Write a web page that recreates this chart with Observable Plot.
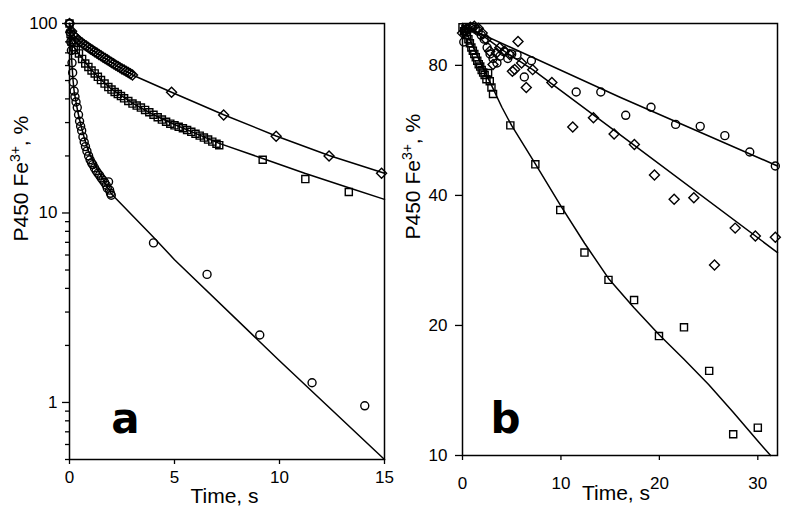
<!DOCTYPE html>
<html><head><meta charset="utf-8">
<script src="https://cdn.jsdelivr.net/npm/d3@7"></script>
<script src="https://cdn.jsdelivr.net/npm/@observablehq/plot@0.6"></script>
<style>
body{margin:0;background:#fff;}
#wrap{position:relative;width:800px;height:521px;background:#fff;}
#wrap svg{position:absolute;top:0;}
</style></head><body><div id="wrap"></div>
<script>
// ---------- Panel a data (time s, % P450 Fe3+) ----------
const aXTicks = [0, 5, 10, 15];
const aYTicks = [1, 10, 100];
const aYMinorTicks = [0.5,0.6,0.7,0.8,0.9,2,3,4,5,6,7,8,9,20,30,40,50,60,70,80,90];
const aDiamonds = [[0,100],[0.1,91],[0.2,86.5],[0.3,84],[0.4,82],[0.5,80.3],[0.6,78.8],[0.7,77.3],[0.8,76],[0.9,74.7],[1.0,73.4],[1.1,72.2],[1.2,71],[1.3,69.8],[1.4,68.6],[1.5,67.5],[1.6,66.4],[1.7,65.3],[1.8,64.3],[1.9,63.3],[2.0,62.3],[2.1,61.3],[2.2,60.3],[2.3,59.4],[2.4,58.5],[2.5,57.6],[2.6,56.8],[2.7,55.9],[2.8,55.1],[2.9,54.3],[3.0,53.5],[4.86,43.4],[7.34,32.9],[9.84,25.4],[12.36,20.0],[14.86,16.2]];
const aSquares = [[0,100],[0.05,88],[0.1,80],[0.2,75],[0.3,72.5],[0.45,69.5],[0.6,65],[0.75,61.5],[0.9,59],[1.05,56.5],[1.2,54.5],[1.35,52.3],[1.5,50.3],[1.67,48.2],[1.85,46.2],[2.0,44.8],[2.15,43.5],[2.3,42.4],[2.45,41.4],[2.6,40.3],[2.8,39.0],[3.0,37.8],[3.2,36.9],[3.4,36.0],[3.6,35.0],[3.8,34.0],[4.0,33.0],[4.2,32.0],[4.4,31.1],[4.6,30.3],[4.8,29.6],[5.0,29.0],[5.2,28.5],[5.4,28.0],[5.6,27.4],[5.8,26.8],[6.0,26.2],[6.2,25.6],[6.4,25.0],[6.6,24.4],[6.8,23.8],[7.0,23.2],[7.13,22.8],[9.2,19.1],[11.23,15.1],[13.3,12.9]];
const aCircles = [[0,100],[0.03,90],[0.06,80],[0.09,72],[0.12,62],[0.15,55],[0.18,49],[0.22,44],[0.26,41],[0.31,38.5],[0.37,36],[0.43,33],[0.48,30.5],[0.53,28.7],[0.58,27.2],[0.64,25.2],[0.7,23.7],[0.76,22.4],[0.83,21.2],[0.91,20],[0.98,19.1],[1.05,18.4],[1.11,18],[1.19,17.3],[1.27,16.7],[1.35,16.2],[1.43,15.8],[1.51,15.3],[1.59,14.9],[1.67,14.5],[1.75,14],[1.8,13.5],[1.86,14.6],[1.91,13.2],[1.95,12.7],[1.99,12.4],[4.0,6.95],[6.55,4.74],[9.06,2.27],[11.55,1.27],[14.06,0.96]];
const aDiamondFit = [[0,100],[0.1,91],[0.25,85.5],[0.5,80.3],[1,73.4],[1.5,67.5],[2,62.3],[2.5,57.6],[3,53.5],[4.86,43.4],[7.34,33],[9.84,25.5],[12.36,20.1],[15,16.2]];
const aSquareFit = [[0,100],[0.1,81],[0.3,72.5],[0.6,65.5],[1,57.5],[1.5,50.5],[2,45],[3,38],[4,33],[5,29.3],[6,26.3],[7.13,23.3],[9.2,19.4],[11.2,16.2],[13.3,13.6],[15,11.8]];
const aCircleFit = [[0,100],[0.04,86],[0.08,72],[0.12,60],[0.17,50],[0.22,44],[0.3,39],[0.4,34],[0.5,30.5],[0.6,27.5],[0.7,25],[0.8,23],[0.9,21.3],[1.0,20],[1.2,18],[1.4,16.5],[1.6,15],[1.8,13.7],[2.0,12.6],[4.0,7.45],[5.0,5.67],[10,1.66],[15,0.5]];

// ---------- Panel b data ----------
const bXTicks = [0, 10, 20, 30];
const bYTicks = [10, 20, 40, 80];
const bCircles = [[0.13,90.6],[0.3,95],[0.6,97],[1.0,98],[1.3,97],[1.6,96],[1.9,94],[2.2,92],[2.5,88],[2.8,85],[3.1,83],[3.5,81],[3.8,84],[4.2,86],[4.6,83],[5.0,85],[5.54,84.6],[6.28,75.2],[7.0,82],[11.55,69.4],[14.05,69.4],[16.58,61.3],[19.15,64.0],[21.65,58.4],[24.15,57.8],[26.65,55.0],[29.18,50.4],[31.78,46.8]];
const bDiamonds = [[0,95],[0.4,97],[0.8,98],[1.2,98.5],[1.6,97.5],[2.0,95],[2.4,92],[2.77,86.3],[3.1,80.4],[3.44,85.5],[3.78,87.9],[4.29,86.3],[4.8,84.8],[5.07,77.5],[5.3,78.3],[5.64,90.9],[6.0,81],[6.48,71.1],[7.13,78.2],[9.08,73.0],[11.2,57.6],[13.3,60.5],[15.4,55.5],[17.46,52.5],[19.5,44.6],[21.5,39.2],[23.5,39.5],[25.6,27.6],[27.7,33.6],[29.75,32.2],[31.78,32.0]];
const bSquares = [[0,98],[0.15,96],[0.3,97],[0.45,94],[0.6,92],[0.75,90],[0.9,88],[1.05,86.5],[1.2,85],[1.35,83.5],[1.5,82],[1.65,80.5],[1.8,79.5],[1.95,78],[2.1,77],[2.25,76],[2.43,74.3],[2.6,76.8],[2.77,73.5],[2.94,71.1],[3.1,68.7],[4.86,58.1],[7.4,47.2],[9.93,37.0],[12.39,29.5],[14.83,25.5],[17.43,22.9],[19.96,18.9],[22.5,19.8],[25.06,15.7],[27.5,11.2],[30.0,11.6]];
const bCircleFit = [[0,99],[16,67.5],[32,46.8]];
const bDiamondFit = [[0,98],[2,94],[4,87],[7.13,78.2],[17.46,52.2],[32,29.5]];
const bSquareFit = [[0,100],[1,89],[2,79.5],[3,71.5],[4,64],[5,58],[7.4,47.3],[10,37.8],[12.4,31],[14.83,25.7],[17.4,22],[20,19],[22.5,16.7],[25,14.6],[27.5,12.6],[30,10.8],[31.3,10]];

const yLabel = "P450 Fe3+, %";
const xLabel = "Time, s";
const FONT = "'Liberation Sans', Arial, Helvetica, sans-serif";

const pt = d => d[0], pv = d => d[1];
const diamondSym = d3.symbolDiamond2 || "diamond";
function dots(data, symbol, r) {
  return Plot.dot(data, {x: pt, y: pv, symbol, r, stroke: "black", fill: "none", strokeWidth: 1.4});
}
function fit(data) {
  return Plot.line(data, {x: pt, y: pv, stroke: "black", strokeWidth: 1.5});
}

function panel(o) {
  const svg = Plot.plot({
    width: 400, height: 521,
    marginLeft: o.ml, marginRight: o.mr, marginTop: 23, marginBottom: o.mb,
    style: {fontFamily: FONT, fontSize: "17px", color: "black", background: "white"},
    x: {domain: o.xDomain},
    y: {type: "log", domain: o.yDomain},
    marks: [
      Plot.frame({stroke: "black", strokeWidth: 1.5}),
      ...(o.yMinor ? [Plot.axisY(o.yMinor, {tickSize: 4, tickFormat: () => "", label: null, strokeWidth: 1.3})] : []),
      Plot.axisY(o.yTicks, {tickSize: o.yTickSize, tickPadding: o.yPad, tickFormat: d => String(d), label: null, strokeWidth: 1.3, fontSize: 17}),
      Plot.axisX(o.xTicks, {tickSize: 5, tickPadding: o.xPad, tickFormat: d => String(d), label: null, strokeWidth: 1.3, fontSize: 17}),
      fit(o.fits[0]), fit(o.fits[1]), fit(o.fits[2]),
      dots(o.circles, "circle", 4),
      dots(o.squares, "square", 4),
      dots(o.diamonds, diamondSym, 4.5),
      Plot.text([xLabel], {text: d => d, frameAnchor: "bottom", dx: o.xlDx, dy: o.xlDy, fontSize: 21, lineAnchor: "middle"}),
      Plot.text([yLabel], {text: d => d, frameAnchor: "left", rotate: -90, dx: o.ylDx, fontSize: 21, lineAnchor: "middle"}),
      Plot.text([o.letter], {text: d => d, frameAnchor: "bottom-left", dx: o.lDx, dy: o.lDy, fontSize: 42, fontWeight: "bold", fontFamily: "'DejaVu Sans', Verdana, sans-serif", textAnchor: "middle", lineAnchor: "bottom"})
    ]
  });
  d3.select(svg).selectAll("text").filter(function() { return this.textContent === yLabel; }).each(function() {
    const t = d3.select(this); t.text(null);
    t.append("tspan").text("P450 Fe");
    t.append("tspan").attr("dy", "-8").attr("font-size", "14").text("3+");
    t.append("tspan").attr("dy", "8").text(", %");
  });
  svg.style.left = o.left + "px";
  return svg;
}

const wrap = document.getElementById("wrap");
wrap.appendChild(panel({
  left: 0, ml: 69, mr: 16, mb: 62,
  xDomain: [0, 15], yDomain: [0.5, 100],
  xTicks: aXTicks, yTicks: aYTicks, yMinor: aYMinorTicks,
  yTickSize: 7, yPad: 5, xPad: 6,
  fits: [aDiamondFit, aSquareFit, aCircleFit],
  circles: aCircles, squares: aSquares, diamonds: aDiamonds,
  xlDx: -2.5, xlDy: 37, ylDx: -48.5, letter: "a", lDx: 56, lDy: -27
}));
wrap.appendChild(panel({
  left: 400, ml: 62, mr: 23, mb: 66,
  xDomain: [0, 32], yDomain: [10, 100],
  xTicks: bXTicks, yTicks: bYTicks, yMinor: null,
  yTickSize: 7, yPad: 8, xPad: 16,
  fits: [bCircleFit, bDiamondFit, bSquareFit],
  circles: bCircles, squares: bSquares, diamonds: bDiamonds,
  xlDx: -4, xlDy: 38, ylDx: -49, letter: "b", lDx: 43, lDy: -23
}));
</script></body></html>
